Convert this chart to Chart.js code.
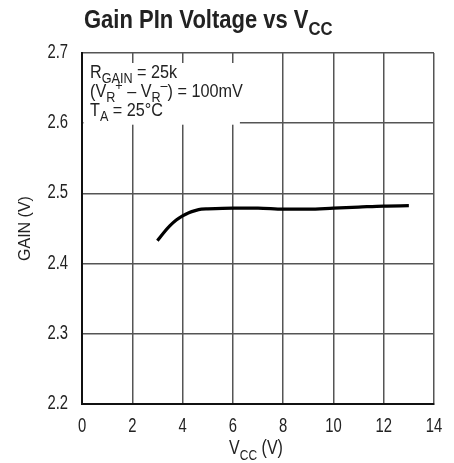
<!DOCTYPE html>
<html><head><meta charset="utf-8">
<script src="https://cdn.jsdelivr.net/npm/chart.js@4"></script>
<style>html,body{margin:0;padding:0;background:#fff}#wrap{width:454px;height:463px}</style>
</head><body><div id="wrap"><canvas id="c" width="454" height="463"></canvas></div>
<script>
const vcc = [3, 3.25, 3.5, 3.75, 4, 4.25, 4.5, 4.75, 5, 6, 7, 8, 9, 10, 11, 12, 13];
const gain = [2.4325, 2.444, 2.454, 2.462, 2.468, 2.4725, 2.4755, 2.4775, 2.478, 2.479, 2.479, 2.4775, 2.4775, 2.479, 2.4805, 2.482, 2.4825];
const xTicks = [0, 2, 4, 6, 8, 10, 12, 14];
const yTicks = [2.2, 2.3, 2.4, 2.5, 2.6, 2.7];
const titleParts = [["Gain PIn Voltage vs V", 0], ["CC", 1]];
const xTitleParts = [["V", 0], ["CC", 1], [" (V)", 0]];
const yTitle = "GAIN (V)";
const noteLines = [
  [["R", 0], ["GAIN", 1], [" = 25k", 0]],
  [["(V", 0], ["R", 1], ["+", 2], [" \u2013 V", 0], ["R", 1], ["\u2013", 2], [") = 100mV", 0]],
  [["T", 0], ["A", 1], [" = 25\u00B0C", 0]]
];
const FONT = "'Liberation Sans', Arial, sans-serif";

function drawRich(ctx, parts, x, y, size, weight, align, sx) {
  const sub = Math.round(size * 0.75);
  const fontFor = k => `${weight} ${k === 0 ? size : sub}px ${FONT}`;
  let w = 0;
  parts.forEach(([t, k]) => { ctx.font = fontFor(k); w += ctx.measureText(t).width; });
  w *= sx;
  let cx = align === 'center' ? x - w / 2 : (align === 'right' ? x - w : x);
  ctx.save();
  ctx.translate(cx, y);
  ctx.scale(sx, 1);
  ctx.textBaseline = 'alphabetic';
  ctx.textAlign = 'left';
  let px = 0;
  parts.forEach(([t, k]) => {
    ctx.font = fontFor(k);
    const dy = k === 1 ? size * 0.28 : (k === 2 ? -size * 0.38 : 0);
    ctx.fillText(t, px, dy);
    px += ctx.measureText(t).width;
  });
  ctx.restore();
}

const overlay = {
  id: 'overlay',
  beforeDatasetsDraw(chart) {
    const ctx = chart.ctx, xs = chart.scales.x, ys = chart.scales.y;
    ctx.save();
    ctx.fillStyle = '#fff';
    const x0 = chart.chartArea.left + 1.5, x1 = xs.getPixelForValue(6.28);
    const y0 = chart.chartArea.top + 10, y1 = ys.getPixelForValue(2.6) + 1.5;
    ctx.fillRect(x0, y0, x1 - x0, y1 - y0);
    ctx.restore();
  },
  afterDraw(chart) {
    const ctx = chart.ctx, xs = chart.scales.x, ys = chart.scales.y;
    ctx.save();
    ctx.fillStyle = '#222';
    // tick labels
    yTicks.forEach(v => drawRich(ctx, [[v.toFixed(1), 0]], 68, ys.getPixelForValue(v) + 5, 19.5, 'normal', 'right', 0.76));
    xTicks.forEach(v => drawRich(ctx, [[String(v), 0]], xs.getPixelForValue(v), 432, 19.5, 'normal', 'center', 0.76));
    drawRich(ctx, titleParts, 84, 28, 25, 'bold', 'left', 0.88);
    drawRich(ctx, xTitleParts, 256, 454, 20, 'normal', 'center', 0.8);
    noteLines.forEach((ln, i) => drawRich(ctx, ln, 90, 78 + i * 19, 18, 'normal', 'left', 0.9));
    ctx.translate(26, (chart.chartArea.top + chart.chartArea.bottom) / 2);
    ctx.rotate(-Math.PI / 2);
    ctx.font = `16px ${FONT}`;
    ctx.textAlign = 'center';
    ctx.textBaseline = 'middle';
    ctx.fillText(yTitle, 0, 0);
    ctx.restore();
  }
};

new Chart(document.getElementById('c'), {
  type: 'line',
  data: { datasets: [{ data: vcc.map((v, i) => ({ x: v, y: gain[i] })), borderColor: '#000', borderWidth: 3.2, pointRadius: 0, cubicInterpolationMode: 'monotone', fill: false }] },
  options: {
    responsive: false, animation: false, devicePixelRatio: 1,
    layout: { padding: { left: 0, top: 53, right: 20, bottom: 0 } },
    plugins: { legend: { display: false }, tooltip: { enabled: false } },
    scales: {
      x: {
        type: 'linear', min: 0, max: 14,
        afterBuildTicks: s => { s.ticks = xTicks.map(v => ({ value: v })); },
        afterFit: s => { s.height = 59; },
        grid: { color: '#555', lineWidth: 1.5, drawTicks: false },
        border: { color: '#111', width: 2 },
        ticks: { display: false }
      },
      y: {
        type: 'linear', min: 2.2, max: 2.7,
        afterBuildTicks: s => { s.ticks = yTicks.map(v => ({ value: v })); },
        afterFit: s => { s.width = 82; },
        grid: { color: '#555', lineWidth: 1.5, drawTicks: false },
        border: { color: '#111', width: 2 },
        ticks: { display: false }
      }
    }
  },
  plugins: [overlay]
});
</script></body></html>
